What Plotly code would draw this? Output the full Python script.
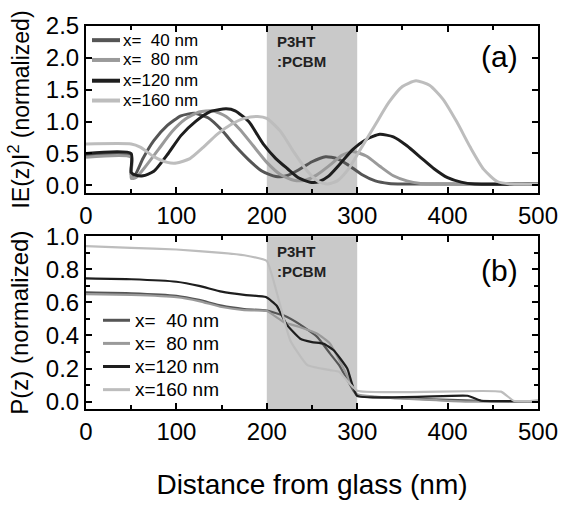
import plotly.graph_objects as go
from plotly.subplots import make_subplots

labels = ["x=  40 nm", "x=  80 nm", "x=120 nm", "x=160 nm"]
colors = ["#555555", "#9a9a9a", "#1e1e1e", "#bdbdbd"]
layer_start, layer_end = 200, 300

# Panel (a): |E(z)|^2 normalized
a40_x = [0, 49.9, 50, 54, 63, 75, 90, 105, 120, 135, 150, 165, 180, 195, 210, 222, 235, 250, 265, 278, 290, 305, 320, 335, 350, 500]
a40_y = [0.47, 0.47, 0.17, 0.16, 0.42, 0.70, 0.94, 1.09, 1.13, 1.06, 0.87, 0.62, 0.40, 0.22, 0.14, 0.15, 0.24, 0.37, 0.45, 0.42, 0.32, 0.17, 0.07, 0.03, 0.02, 0.02]
a80_x = [0, 49.9, 50, 55, 65, 80, 95, 110, 125, 140, 155, 170, 185, 200, 215, 230, 242, 255, 270, 283, 295, 310, 325, 340, 355, 370, 385, 500]
a80_y = [0.44, 0.44, 0.11, 0.12, 0.28, 0.56, 0.84, 1.04, 1.15, 1.17, 1.08, 0.88, 0.62, 0.36, 0.17, 0.08, 0.08, 0.16, 0.32, 0.47, 0.53, 0.46, 0.30, 0.15, 0.07, 0.03, 0.02, 0.02]
a120_x = [0, 49.9, 50, 55, 63, 75, 91, 105, 121, 138, 155, 165, 180, 196, 210, 223, 235, 248, 258, 268, 280, 295, 310, 325, 340, 355, 370, 385, 400, 415, 430, 500]
a120_y = [0.50, 0.50, 0.20, 0.16, 0.15, 0.22, 0.50, 0.78, 1.00, 1.16, 1.20, 1.17, 1.00, 0.65, 0.42, 0.26, 0.12, 0.05, 0.06, 0.14, 0.32, 0.56, 0.72, 0.80, 0.76, 0.62, 0.44, 0.26, 0.12, 0.05, 0.02, 0.02]
a160_x = [0, 50, 60, 75, 90, 100, 115, 130, 145, 160, 175, 190, 200, 215, 230, 245, 257, 267, 278, 290, 305, 320, 335, 350, 365, 380, 395, 410, 425, 440, 455, 470, 500]
a160_y = [0.65, 0.65, 0.60, 0.45, 0.36, 0.35, 0.42, 0.60, 0.80, 0.95, 1.05, 1.08, 1.05, 0.85, 0.52, 0.22, 0.06, 0.02, 0.07, 0.25, 0.60, 0.95, 1.30, 1.55, 1.64, 1.57, 1.35, 1.00, 0.60, 0.25, 0.06, 0.02, 0.02]

# Panel (b): P(z) normalized
b40_x = [0, 50, 100, 125, 150, 175, 200, 219, 237, 256, 270, 280, 296, 300, 348, 403, 470, 500]
b40_y = [0.66, 0.655, 0.64, 0.615, 0.58, 0.56, 0.55, 0.52, 0.465, 0.39, 0.29, 0.22, 0.065, 0.035, 0.02, 0.01, 0.0, 0.0]
b80_x = [0, 50, 100, 125, 150, 175, 200, 219, 237, 256, 270, 285, 300, 320, 380, 420, 500]
b80_y = [0.65, 0.645, 0.632, 0.608, 0.572, 0.553, 0.548, 0.48, 0.45, 0.41, 0.35, 0.20, 0.045, 0.03, 0.01, 0.0, 0.0]
b120_x = [0, 50, 100, 125, 150, 175, 199, 211, 222, 237, 250, 263, 274, 289, 300, 422, 437, 500]
b120_y = [0.745, 0.74, 0.725, 0.70, 0.665, 0.645, 0.632, 0.58, 0.465, 0.38, 0.36, 0.35, 0.31, 0.20, 0.035, 0.035, 0.005, 0.005]
b160_x = [0, 50, 100, 150, 175, 200, 211, 226, 245, 270, 280, 300, 459, 473, 500]
b160_y = [0.94, 0.93, 0.92, 0.90, 0.885, 0.85, 0.66, 0.37, 0.22, 0.19, 0.18, 0.065, 0.06, 0.005, 0.005]

a_series = [(a40_x, a40_y), (a80_x, a80_y), (a120_x, a120_y), (a160_x, a160_y)]
b_series = [(b40_x, b40_y), (b80_x, b80_y), (b120_x, b120_y), (b160_x, b160_y)]

fig = make_subplots(rows=2, cols=1)

for (xs, ys), lab, col in zip(a_series, labels, colors):
    fig.add_trace(go.Scatter(x=xs, y=ys, mode="lines", name=lab, showlegend=False,
                             line=dict(color=col, width=3, shape="spline", smoothing=0.6)), row=1, col=1)
for (xs, ys), lab, col in zip(b_series, labels, colors):
    fig.add_trace(go.Scatter(x=xs, y=ys, mode="lines", name=lab, showlegend=False,
                             line=dict(color=col, width=2.2, shape="spline", smoothing=0.4)), row=2, col=1)

FONT = "Liberation Sans, Arial"

axis_common = dict(showline=True, linecolor="black", linewidth=2, mirror="ticks",
                   ticks="inside", ticklen=6, tickwidth=2, tickcolor="black",
                   showgrid=False, zeroline=False,
                   tickfont=dict(family=FONT, size=24, color="black"))
fig.update_xaxes(range=[0, 500], dtick=100, tick0=0,
                 minor=dict(dtick=50, ticks="inside", ticklen=4, tickwidth=2, tickcolor="black"),
                 **axis_common)
fig.update_yaxes(**axis_common)
fig.update_yaxes(range=[-0.12, 2.5], dtick=0.5, tickformat=".1f", row=1, col=1, domain=[0.564, 1.0],
                 title=dict(text="IE(z)I<sup>2</sup> (normalized)", font=dict(family=FONT, size=23, color="black"), standoff=10))
fig.update_yaxes(range=[-0.045, 1.0], dtick=0.2, tickformat=".1f", row=2, col=1, domain=[0.0, 0.451],
                 minor=dict(dtick=0.1, ticks="inside", ticklen=4, tickwidth=2, tickcolor="black"),
                 title=dict(text="P(z) (normalized)", font=dict(family=FONT, size=24, color="black"), standoff=10))
fig.update_xaxes(row=2, col=1,
                 title=dict(text="Distance from glass (nm)", font=dict(family=FONT, size=28, color="black"), standoff=31))

for xref, yref in [("x", "y domain"), ("x2", "y2 domain")]:
    fig.add_shape(type="rect", xref=xref, yref=yref, x0=layer_start, x1=layer_end, y0=0, y1=1,
                  fillcolor="#c9c9c9", line=dict(width=0), layer="below")
    fig.add_annotation(xref=xref, yref=yref, x=layer_start + 9, y=0.97, xanchor="left", yanchor="top",
                       text="<b>P3HT<br>:PCBM</b>", showarrow=False, align="left",
                       font=dict(family=FONT, size=15, color="#222222"))

fig.add_annotation(xref="x domain", yref="y domain", x=0.96, y=0.82, xanchor="right", yanchor="middle",
                   text="(a)", showarrow=False, font=dict(family=FONT, size=30, color="black"))
fig.add_annotation(xref="x2 domain", yref="y2 domain", x=0.96, y=0.80, xanchor="right", yanchor="middle",
                   text="(b)", showarrow=False, font=dict(family=FONT, size=30, color="black"))

# Manual legends (panel a and panel b)
W = 452.0
def dx(px):
    return (px - 86) / W
leg_a_y = [38, 59, 81, 102]
leg_b_y = [335, 359.5, 384, 408.5]
for lab, col, py in zip(labels, colors, leg_a_y):
    yd = (200 - py) / 177.0
    fig.add_shape(type="line", xref="x domain", yref="y domain", x0=dx(92), x1=dx(120), y0=yd, y1=yd,
                  line=dict(color=col, width=4))
    fig.add_annotation(xref="x domain", yref="y domain", x=dx(121), y=yd, xanchor="left", yanchor="middle",
                       text=lab, showarrow=False, font=dict(family=FONT, size=17, color="black"))
for lab, col, py in zip(labels, colors, leg_b_y):
    yd = (429 - py) / 183.0
    fig.add_shape(type="line", xref="x2 domain", yref="y2 domain", x0=dx(103), x1=dx(130), y0=yd, y1=yd,
                  line=dict(color=col, width=3))
    fig.add_annotation(xref="x2 domain", yref="y2 domain", x=dx(133), y=yd, xanchor="left", yanchor="middle",
                       text=lab, showarrow=False, font=dict(family=FONT, size=19, color="black"))

fig.update_layout(
    width=571, height=507,
    margin=dict(l=86, r=33, t=23, b=78),
    paper_bgcolor="white", plot_bgcolor="white",
    showlegend=False,
)

fig.write_html("out.html")
